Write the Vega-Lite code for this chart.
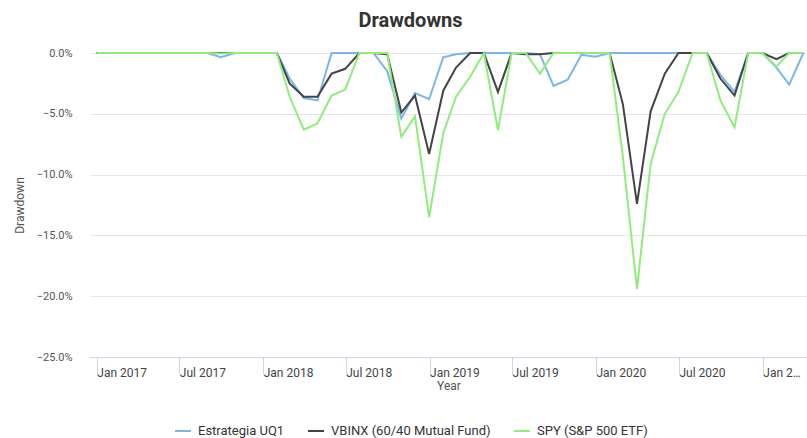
{
  "$schema": "https://vega.github.io/schema/vega-lite/v6.json",
  "autosize": "none",
  "width": 717,
  "height": 304,
  "padding": {"left": 90, "top": 53, "right": 0, "bottom": 81},
  "title": {"text": "Drawdowns", "font": "Roboto", "fontSize": 20, "fontWeight": "bold", "color": "#333333", "anchor": "middle", "frame": "group", "dx": -38, "offset": 16},
  "config": {"view": {"stroke": null}, "font": "Roboto"},
  "datasets": {
    "wide": [
      {"date": "2016-12-31", "a": 0, "b": 0, "c": 0},
      {"date": "2017-01-31", "a": 0, "b": 0, "c": 0},
      {"date": "2017-02-28", "a": 0, "b": 0, "c": 0},
      {"date": "2017-03-31", "a": 0, "b": 0, "c": 0},
      {"date": "2017-04-30", "a": 0, "b": 0, "c": 0},
      {"date": "2017-05-31", "a": 0, "b": 0, "c": 0},
      {"date": "2017-06-30", "a": 0, "b": 0, "c": 0},
      {"date": "2017-07-31", "a": 0, "b": 0, "c": 0},
      {"date": "2017-08-31", "a": 0, "b": 0, "c": 0},
      {"date": "2017-09-30", "a": -0.0035, "b": 0, "c": -0.0005},
      {"date": "2017-10-31", "a": 0, "b": 0, "c": 0},
      {"date": "2017-11-30", "a": 0, "b": 0, "c": 0},
      {"date": "2017-12-31", "a": 0, "b": 0, "c": 0},
      {"date": "2018-01-31", "a": 0, "b": 0, "c": 0},
      {"date": "2018-02-28", "a": -0.021, "b": -0.025, "c": -0.036},
      {"date": "2018-03-31", "a": -0.037, "b": -0.036, "c": -0.063},
      {"date": "2018-04-30", "a": -0.039, "b": -0.036, "c": -0.058},
      {"date": "2018-05-31", "a": 0, "b": -0.017, "c": -0.035},
      {"date": "2018-06-30", "a": 0, "b": -0.013, "c": -0.030},
      {"date": "2018-07-31", "a": 0, "b": 0, "c": 0},
      {"date": "2018-08-31", "a": 0, "b": 0, "c": 0},
      {"date": "2018-09-30", "a": -0.015, "b": -0.001, "c": 0},
      {"date": "2018-10-31", "a": -0.054, "b": -0.049, "c": -0.069},
      {"date": "2018-11-30", "a": -0.033, "b": -0.035, "c": -0.052},
      {"date": "2018-12-31", "a": -0.038, "b": -0.083, "c": -0.135},
      {"date": "2019-01-31", "a": -0.0035, "b": -0.031, "c": -0.066},
      {"date": "2019-02-28", "a": -0.001, "b": -0.012, "c": -0.036},
      {"date": "2019-03-31", "a": 0, "b": 0, "c": -0.0195},
      {"date": "2019-04-30", "a": 0, "b": 0, "c": 0},
      {"date": "2019-05-31", "a": 0, "b": -0.032, "c": -0.0635},
      {"date": "2019-06-30", "a": 0, "b": 0, "c": 0},
      {"date": "2019-07-31", "a": 0, "b": -0.001, "c": 0},
      {"date": "2019-08-31", "a": -0.001, "b": -0.001, "c": -0.017},
      {"date": "2019-09-30", "a": -0.027, "b": 0, "c": 0},
      {"date": "2019-10-31", "a": -0.022, "b": 0, "c": 0},
      {"date": "2019-11-30", "a": -0.0015, "b": 0, "c": 0},
      {"date": "2019-12-31", "a": -0.003, "b": 0, "c": 0},
      {"date": "2020-01-31", "a": 0, "b": 0, "c": 0},
      {"date": "2020-02-29", "a": 0, "b": -0.042, "c": -0.085},
      {"date": "2020-03-31", "a": 0, "b": -0.124, "c": -0.194},
      {"date": "2020-04-30", "a": 0, "b": -0.048, "c": -0.091},
      {"date": "2020-05-31", "a": 0, "b": -0.017, "c": -0.050},
      {"date": "2020-06-30", "a": 0, "b": 0, "c": -0.032},
      {"date": "2020-07-31", "a": 0, "b": 0, "c": 0},
      {"date": "2020-08-31", "a": 0, "b": 0, "c": 0},
      {"date": "2020-09-30", "a": -0.018, "b": -0.021, "c": -0.039},
      {"date": "2020-10-31", "a": -0.032, "b": -0.035, "c": -0.061},
      {"date": "2020-11-30", "a": 0, "b": 0, "c": 0},
      {"date": "2020-12-31", "a": 0, "b": 0, "c": 0},
      {"date": "2021-01-31", "a": -0.012, "b": -0.005, "c": -0.011},
      {"date": "2021-02-28", "a": -0.026, "b": 0, "c": 0},
      {"date": "2021-03-31", "a": 0, "b": 0, "c": 0}
    ]
  },
  "data": {"name": "wide"},
  "transform": [
    {"fold": ["a", "b", "c"], "as": ["key", "drawdown"]},
    {"lookup": "key", "from": {"data": {"values": [
      {"key": "a", "series": "Estrategia UQ1"},
      {"key": "b", "series": "VBINX (60/40 Mutual Fund)"},
      {"key": "c", "series": "SPY (S&P 500 ETF)"}
    ]}, "key": "key", "fields": ["series"]}}
  ],
  "mark": {"type": "line", "strokeWidth": 2, "interpolate": "linear"},
  "encoding": {
    "x": {
      "field": "date", "type": "temporal", "title": "Year",
      "scale": {"type": "utc", "domain": [{"year": 2016, "month": 12, "date": 17, "utc": true}, {"year": 2021, "month": 4, "date": 8, "utc": true}], "nice": false},
      "axis": {
        "values": [
          {"year": 2017, "month": 1, "date": 1, "utc": true},
          {"year": 2017, "month": 7, "date": 1, "utc": true},
          {"year": 2018, "month": 1, "date": 1, "utc": true},
          {"year": 2018, "month": 7, "date": 1, "utc": true},
          {"year": 2019, "month": 1, "date": 1, "utc": true},
          {"year": 2019, "month": 7, "date": 1, "utc": true},
          {"year": 2020, "month": 1, "date": 1, "utc": true},
          {"year": 2020, "month": 7, "date": 1, "utc": true},
          {"year": 2021, "month": 1, "date": 1, "utc": true}
        ],
        "format": "%b %Y",
        "labelExpr": "utcyear(datum.value) == 2021 ? 'Jan 2…' : datum.label",
        "labelAlign": "left", "labelDx": 4, "labelBaseline": "top",
        "labelPadding": -7,
        "labelFont": "Roboto", "labelFontSize": 12, "labelColor": "#444444",
        "labelOverlap": false, "labelFlush": false, "labelBound": false,
        "tickSize": 17, "tickColor": "#ccd6eb", "tickWidth": 1,
        "domainColor": "#ccd6eb", "domainWidth": 1,
        "grid": false,
        "titleFont": "Roboto", "titleFontSize": 12, "titleFontWeight": "normal", "titleColor": "#555555", "titlePadding": 2
      }
    },
    "y": {
      "field": "drawdown", "type": "quantitative", "title": "Drawdown",
      "scale": {"domain": [-0.25, 0], "nice": false, "zero": false},
      "axis": {
        "values": [-0.25, -0.2, -0.15, -0.1, -0.05, 0],
        "format": ".1%",
        "domain": false, "ticks": false,
        "gridColor": "#e6e6e6", "gridWidth": 1,
        "labelPadding": 18, "labelFont": "Roboto", "labelFontSize": 11, "labelColor": "#555555",
        "titleFont": "Roboto", "titleFontSize": 12, "titleFontWeight": "normal", "titleColor": "#555555", "titlePadding": 10
      }
    },
    "color": {
      "field": "series", "type": "nominal",
      "scale": {"domain": ["Estrategia UQ1", "VBINX (60/40 Mutual Fund)", "SPY (S&P 500 ETF)"], "range": ["#7cb5ec", "#434348", "#90ed7d"]},
      "legend": {
        "title": null, "orient": "none", "direction": "horizontal",
        "legendX": 84, "legendY": 369,
        "symbolType": "stroke", "symbolStrokeWidth": 2, "symbolSize": 256,
        "labelOffset": 6,
        "labelFont": "Roboto", "labelFontSize": 13, "labelColor": "#333333",
        "columnPadding": 19
      }
    }
  }
}
